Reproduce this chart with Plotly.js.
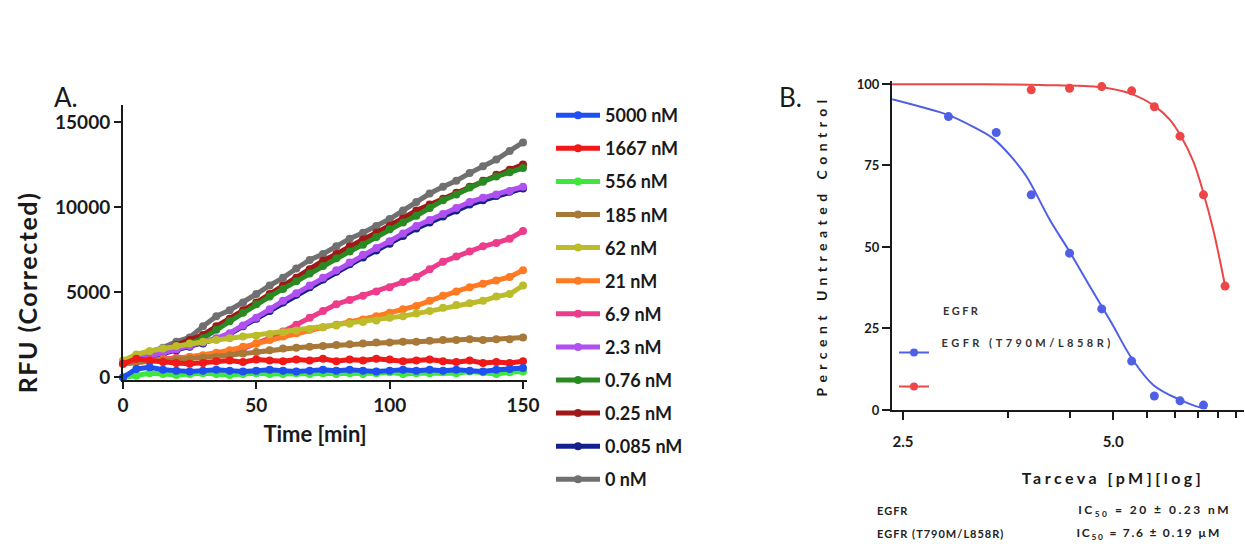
<!DOCTYPE html>
<html><head><meta charset="utf-8">
<script src="https://cdn.plot.ly/plotly-3.0.1.min.js"></script>
<style>
html,body{margin:0;padding:0;background:#fff;}
#chart{width:1245px;height:544px;}
.ytitle{letter-spacing:1.5px;translate:0px 50px;}
.xtitle{translate:-10px 0px;}
.x2title{letter-spacing:3.5px;transform:translateX(45px);}
.y2title{letter-spacing:5.5px;}
.legend2 .traces{opacity:1 !important;}
.annotation[data-index="2"] .annotation-text{letter-spacing:2.5px;}
.annotation[data-index="3"] .annotation-text{letter-spacing:3.5px;}
.annotation[data-index="4"] .annotation-text{letter-spacing:1px;}
.annotation[data-index="5"] .annotation-text{letter-spacing:1px;}
.annotation[data-index="6"] .annotation-text{letter-spacing:2.5px;}
.annotation[data-index="7"] .annotation-text{letter-spacing:1.75px;}
</style></head><body><div id="chart"></div><script>
// ---------- Panel A: kinetic traces ----------
const timeMin = [0,5,10,15,20,25,30,35,40,45,50,55,60,65,70,75,80,85,90,95,100,105,110,115,120,125,130,135,140,145,150];
const concLabels = ["5000 nM","1667 nM","556 nM","185 nM","62 nM","21 nM","6.9 nM","2.3 nM","0.76 nM","0.25 nM","0.085 nM","0 nM"];
const concColors = ["#1e50f0","#f01818","#3ee63e","#a87838","#bcbc2a","#ff7a22","#ee3c8c","#b050f0","#2a8a22","#a01818","#14208c","#707070"];
const rfu5000 = [0,500,600,450,400,350,400,450,400,350,400,450,400,350,400,450,400,450,400,350,400,450,400,450,400,450,400,350,450,500,550];
const rfu1667 = [800,1100,1000,900,850,800,850,950,1000,900,1050,1000,950,1050,1000,1100,950,1050,1000,1100,1050,950,1000,1050,950,900,1000,850,900,850,950];
const rfu556  = [0,100,250,200,150,200,250,200,150,200,250,200,200,250,200,250,200,250,200,250,300,200,250,250,300,250,350,300,200,300,350];
const rfu185  = [800,900,950,1000,1050,1100,1150,1200,1300,1400,1500,1600,1700,1750,1800,1850,1900,1950,2000,2050,2050,2100,2100,2150,2200,2200,2250,2200,2250,2250,2350];
const rfu62   = [1000,1350,1550,1700,1850,2000,2100,2200,2300,2400,2450,2550,2650,2750,2850,2950,3050,3150,3250,3350,3500,3600,3750,3900,4100,4250,4350,4500,4750,4900,5400];
const rfu21   = [800,900,1000,1050,1100,1200,1300,1450,1600,1800,2000,2200,2400,2600,2800,2950,3100,3250,3400,3600,3800,4000,4200,4500,4800,5050,5300,5500,5700,5900,6300];
const rfu6_9  = [800,900,1000,1100,1150,1200,1250,1350,1500,1700,2000,2300,2700,3100,3500,3900,4300,4550,4800,5050,5300,5600,5900,6350,6800,7100,7400,7700,7900,8150,8600];
const rfu2_3  = [900,1050,1250,1450,1650,1850,2050,2300,2600,3050,3500,4000,4500,4950,5400,5850,6300,6750,7200,7600,8000,8450,8900,9250,9600,9950,10300,10550,10750,10950,11200];
const rfu0_76 = [900,1100,1350,1550,1800,2000,2300,2800,3300,3800,4300,4750,5200,5650,6100,6550,7000,7400,7800,8250,8700,9100,9500,9950,10400,10750,11150,11500,11800,12050,12300];
const rfu0_25 = [900,1100,1350,1600,1900,2200,2500,3000,3450,3950,4400,4900,5400,5850,6350,6850,7250,7700,8100,8500,8900,9350,9800,10150,10500,10850,11200,11550,11900,12200,12500];
const rfu0_085= [850,1000,1200,1400,1600,1800,2000,2250,2550,3000,3450,3900,4400,4850,5300,5750,6200,6650,7050,7450,7850,8300,8750,9100,9450,9800,10150,10400,10650,10900,11100];
const rfu0    = [900,1150,1500,1750,2100,2350,3000,3600,3950,4400,4900,5400,5850,6400,6900,7250,7700,8150,8500,8900,9300,9800,10300,10800,11200,11550,12000,12400,12800,13300,13800];
const rfuSeries = [rfu5000,rfu1667,rfu556,rfu185,rfu62,rfu21,rfu6_9,rfu2_3,rfu0_76,rfu0_25,rfu0_085,rfu0];
const aXTicks = [0,50,100,150];
const aYTicks = [0,5000,10000,15000];

// ---------- Panel B: dose response ----------
const egfrX = [0.93,1.35,1.85,2.33,3.0,3.71,4.52,5.25,6.22,7.26];
const egfrY = [93.0,90.0,85.1,66.0,48.1,31.0,15.0,4.3,2.8,1.5];
const mutX  = [0.93,2.33,3.0,3.71,4.52,5.25,6.22,7.26,8.37];
const mutY  = [99.5,98.2,98.7,99.2,97.9,93.0,84.0,66.0,38.0];
const egfrFitX = [0.931,1.122,1.346,1.585,1.811,2.042,2.259,2.636,2.999,3.436,3.963,4.519,5.212,6.223,7.096,7.413];
const egfrFitY = [95.3,93.0,90.5,86.9,83.3,77.7,71.6,58.3,48.6,37.8,26.6,15.9,7.7,3.1,0.8,0.5];
const mutFitX  = [0.931,1.585,2.472,3.707,4.467,5.248,5.821,6.223,6.792,7.261,7.745,8.375];
const mutFitY  = [99.9,99.9,99.7,99.0,97.1,93.3,89.0,84.4,76.2,66.5,55.2,38.0];
const bXTickVals = [1,4];
const bXTickText = ["2.5","5.0"];
const bXMinorVals = [2,3,5,6,7,8,9];
const bYTicks = [0,25,50,75,100];
const bLegendNames = ["EGFR","EGFR (T790M/L858R)"];
const icNames = ["EGFR","EGFR (T790M/L858R)"];
const icValues = ["IC<sub>50</sub> = 20 ± 0.23 nM","IC<sub>50</sub> = 7.6 ± 0.19 µM"];

const BLUE = "#5060e6", RED = "#ec4646";
const FONT = "Lato, 'Open Sans', sans-serif";
const W = 1245, H = 544;
const px = v => v / W, py = v => 1 - v / H;

const traces = [];
for (let i = rfuSeries.length - 1; i >= 0; i--) {
  traces.push({
    x: timeMin, y: rfuSeries[i], name: concLabels[i], type: "scatter", mode: "lines+markers",
    xaxis: "x", yaxis: "y", legend: "legend", legendgroup: "g" + i, legendrank: i + 1,
    line: {color: concColors[i], width: 5}, marker: {color: concColors[i], size: 8},
    cliponaxis: false
  });
}
// fitted curves
traces.push({x: egfrFitX, y: egfrFitY, xaxis: "x2", yaxis: "y2", mode: "lines", name: bLegendNames[0] + " fit",
  line: {color: BLUE, width: 2, shape: "spline"}, showlegend: false, hoverinfo: "skip"});
traces.push({x: mutFitX, y: mutFitY, xaxis: "x2", yaxis: "y2", mode: "lines", name: bLegendNames[1] + " fit",
  line: {color: RED, width: 2, shape: "spline"}, showlegend: false, hoverinfo: "skip"});
// measured points
traces.push({x: egfrX, y: egfrY, xaxis: "x2", yaxis: "y2", mode: "markers", name: bLegendNames[0],
  marker: {color: BLUE, size: 9}, cliponaxis: false, showlegend: false});
traces.push({x: mutX, y: mutY, xaxis: "x2", yaxis: "y2", mode: "markers", name: bLegendNames[1],
  marker: {color: RED, size: 9}, cliponaxis: false, showlegend: false});
// legend symbols (line + marker); their labels are placed above them, as in the reference
traces.push({x: egfrX, y: egfrY, xaxis: "x2", yaxis: "y2", mode: "lines+markers", name: "", visible: "legendonly",
  legend: "legend2", legendgroup: "b1", legendrank: 1, line: {color: BLUE, width: 2}, marker: {color: BLUE, size: 8}});
traces.push({x: mutX, y: mutY, xaxis: "x2", yaxis: "y2", mode: "lines+markers", name: "", visible: "legendonly",
  legend: "legend2", legendgroup: "b2", legendrank: 2, line: {color: RED, width: 2}, marker: {color: RED, size: 8}});

const axisCommon = {showgrid: false, zeroline: false, showline: true, linecolor: "#1a1a1a", linewidth: 2,
  ticks: "outside", tickcolor: "#1a1a1a", tickwidth: 2};

const layout = {
  width: W, height: H, margin: {l: 0, r: 0, t: 0, b: 0}, paper_bgcolor: "#fff", plot_bgcolor: "#fff",
  font: {family: FONT, color: "#1a1a1a"},
  xaxis: Object.assign({}, axisCommon, {
    domain: [px(123), px(527)], range: [0, 151.5], tickvals: aXTicks, ticklen: 7, anchor: "y",
    tickfont: {family: FONT, size: 19, weight: "bold", color: "#1a1a1a"},
    title: {text: "Time [min]", font: {family: FONT, size: 22, weight: "bold", color: "#1a1a1a"}, standoff: 12}
  }),
  yaxis: Object.assign({}, axisCommon, {
    domain: [py(380), py(105)], range: [-150, 16000], tickvals: aYTicks, tickformat: "d", ticklen: 7, anchor: "x",
    tickfont: {family: FONT, size: 19, weight: "bold", color: "#1a1a1a"},
    title: {text: "RFU (Corrected)", font: {family: FONT, size: 25, weight: "bold", color: "#1a1a1a"}, standoff: 10}
  }),
  xaxis2: Object.assign({}, axisCommon, {
    domain: [px(892), px(1244)], type: "log", range: [-0.0315, 0.977], anchor: "y2",
    tickvals: bXTickVals, ticktext: bXTickText, ticklen: 8, ticklabelstandoff: 9,
    minor: {tickvals: bXMinorVals, ticks: "outside", ticklen: 6, tickwidth: 2, tickcolor: "#1a1a1a"},
    tickfont: {family: FONT, size: 15, weight: "bold", color: "#1a1a1a"},
    title: {text: "Tarceva [pM][log]", font: {family: FONT, size: 16, weight: "bold", color: "#1a1a1a"}, standoff: 24}
  }),
  yaxis2: Object.assign({}, axisCommon, {
    domain: [py(410), py(80.7)], range: [0, 101], anchor: "x2", tickvals: bYTicks, ticklen: 8,
    tickfont: {family: FONT, size: 13, weight: "bold", color: "#1a1a1a"},
    title: {text: "Percent Untreated Control", font: {family: FONT, size: 14, weight: "bold", color: "#1a1a1a"}, standoff: 26}
  }),
  legend: {x: px(551), y: py(97), xanchor: "left", yanchor: "top", itemwidth: 44, tracegroupgap: 6.7,
    font: {family: FONT, size: 18, weight: "bold", color: "#1a1a1a"}, bgcolor: "rgba(0,0,0,0)"},
  legend2: {x: px(894), y: py(338), xanchor: "left", yanchor: "top", itemwidth: 30, tracegroupgap: 15,
    font: {family: FONT, size: 11, weight: "bold", color: "#333"}, bgcolor: "rgba(0,0,0,0)"},
  showlegend: true,
  annotations: [
    {text: "A.", x: px(52), y: py(97), xref: "paper", yref: "paper", xanchor: "left", yanchor: "middle", showarrow: false, font: {family: FONT, size: 26, color: "#1a1a1a"}},
    {text: "B.", x: px(777), y: py(97), xref: "paper", yref: "paper", xanchor: "left", yanchor: "middle", showarrow: false, font: {family: FONT, size: 26, color: "#1a1a1a"}},
    {text: bLegendNames[0], x: px(946), y: py(310), xref: "paper", yref: "paper", xanchor: "left", yanchor: "middle", showarrow: false, font: {family: FONT, size: 11, weight: "bold", color: "#333"}},
    {text: bLegendNames[1], x: px(971), y: py(342), xref: "paper", yref: "paper", xanchor: "left", yanchor: "middle", showarrow: false, font: {family: FONT, size: 11, weight: "bold", color: "#333"}},
    {text: icNames[0], x: px(877), y: py(510), xref: "paper", yref: "paper", xanchor: "left", yanchor: "middle", showarrow: false, font: {family: FONT, size: 11, weight: "bold", color: "#222"}},
    {text: icNames[1], x: px(884), y: py(533), xref: "paper", yref: "paper", xanchor: "left", yanchor: "middle", showarrow: false, font: {family: FONT, size: 11, weight: "bold", color: "#222"}},
    {text: icValues[0], x: px(1100), y: py(510), xref: "paper", yref: "paper", xanchor: "left", yanchor: "middle", showarrow: false, font: {family: FONT, size: 12, weight: "bold", color: "#222"}},
    {text: icValues[1], x: px(1092), y: py(533), xref: "paper", yref: "paper", xanchor: "left", yanchor: "middle", showarrow: false, font: {family: FONT, size: 12, weight: "bold", color: "#222"}}
  ]
};

Plotly.newPlot("chart", traces, layout, {displayModeBar: false, staticPlot: true});
</script></body></html>
